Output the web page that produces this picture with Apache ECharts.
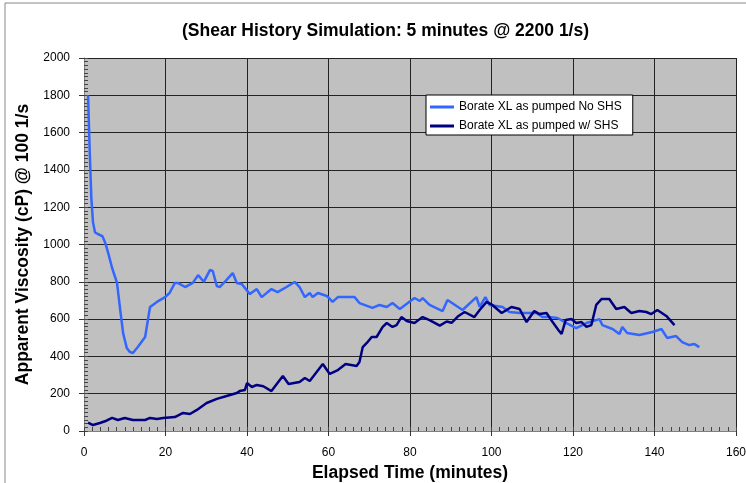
<!DOCTYPE html>
<html>
<head>
<meta charset="utf-8">
<title>Shear History Simulation</title>
<script src="https://cdn.jsdelivr.net/npm/echarts@6/dist/echarts.min.js"></script>
<style>
  html, body { margin: 0; padding: 0; background: #fff; }
  #chart { width: 746px; height: 483px; }
</style>
</head>
<body>
<div id="chart"></div>
<script>
// axis ticks
const xTicks = [0, 20, 40, 60, 80, 100, 120, 140, 160];
const yTicks = [0, 200, 400, 600, 800, 1000, 1200, 1400, 1600, 1800, 2000];

const seriesNames = ['Borate XL as pumped No SHS', 'Borate XL as pumped w/ SHS'];

// Borate XL as pumped No SHS (minutes, cP)
const noShsTime = [1.0, 1.4, 1.8, 2.2, 2.7, 3.5, 4.5, 5.2, 6.0, 6.9, 8.1, 8.8, 9.6, 10.5, 11.2, 12, 13.2, 15, 16.2, 17.9,
  19.9, 21, 22.3, 23, 24.8, 26.7, 28, 29.4, 30.9, 31.6, 32.6, 33.3, 35, 36.5, 37.5, 38.7, 40.7, 42.4, 43.6, 46,
  47.5, 49.7, 51.7, 52.9, 54.2, 55.4, 56.1, 57.4, 59.6, 61, 62.3, 66.4, 67.6, 70.8, 72.5, 74.3, 75.7, 77.5, 81.1, 82.4,
  83.1, 84.8, 88, 89.2, 92.9, 96.3, 97.1, 98.5, 99.5, 102.7, 104.4, 106.9, 111, 112.5, 114.2, 116.2, 118.4, 120.8, 123.3, 126.5,
  127.2, 129.7, 131.4, 132.1, 133.3, 136.3, 139.5, 141.7, 143.1, 145.3, 146.8, 148.5, 149.8, 151];
const noShsVisc = [1800, 1500, 1250, 1120, 1065, 1055, 1045, 1010, 950, 874, 794, 665, 525, 445, 425, 418, 450, 504, 665, 692,
  718, 740, 794, 794, 772, 794, 836, 800, 863, 858, 777, 772, 810, 847, 794, 788, 734, 761, 718, 761,
  745, 772, 799, 772, 718, 740, 718, 740, 724, 692, 718, 718, 686, 660, 676, 665, 686, 654, 713, 697,
  713, 676, 643, 702, 649, 718, 665, 718, 676, 665, 638, 633, 633, 611, 611, 606, 579, 552, 579, 600,
  568, 547, 520, 558, 525, 515, 531, 547, 499, 509, 477, 461, 466, 450];

// Borate XL as pumped w/ SHS (minutes, cP)
const shsTime = [1, 2.2, 3.9, 5.5, 6.9, 8.3, 10, 12, 15, 16.2, 17.9, 19.4, 22.3, 24.3, 26, 27.7, 30.1, 32.6, 35, 37.5,
  38.2, 39.5, 40, 41.2, 42.4, 44, 46, 48.8, 50.2, 52.9, 54.2, 55.4, 58.6, 60.3, 62.3, 64.2, 66.9, 67.6, 68.4, 69.4,
  70.6, 71.8, 73.3, 74.3, 75.7, 76.7, 77.9, 79.2, 81.1, 83.1, 84.8, 87.3, 89, 90.2, 91.9, 93.4, 95.8, 97.1, 98.8, 100.2,
  102.5, 104.9, 106.9, 108.6, 110.5, 111.8, 113.5, 115, 116.4, 117.2, 118.2, 119.6, 120.8, 122.1, 123.3, 124.5, 125.7, 127, 128.9, 130.6,
  132.6, 134.3, 136.3, 138, 139.2, 140.7, 142.9, 144.9];
const shsVisc = [45, 32, 43, 55, 70, 59, 70, 59, 59, 70, 64, 70, 75, 97, 91, 113, 150, 172, 188, 204,
  214, 220, 257, 236, 247, 240, 214, 295, 252, 263, 284, 268, 359, 306, 327, 359, 349, 370, 450, 472,
  504, 504, 558, 579, 558, 568, 611, 590, 579, 611, 595, 565, 587, 580, 617, 638, 611, 649, 692, 676,
  633, 665, 654, 584, 643, 627, 633, 584, 542, 520, 595, 600, 579, 584, 558, 568, 676, 708, 708, 654,
  665, 633, 643, 638, 627, 649, 617, 568];

const pairs = (xs, ys) => xs.map((x, i) => [x, ys[i]]);

const font = 'Liberation Sans, Arial, sans-serif';
const chart = echarts.init(document.getElementById('chart'), null, { renderer: 'canvas' });

chart.setOption({
  backgroundColor: '#fff',
  animation: false,
  // outer chart-area frame
  graphic: [{
    type: 'rect',
    shape: { x: 5, y: 3, width: 800, height: 600 },
    style: { fill: 'none', stroke: '#888', lineWidth: 1 },
    silent: true
  }],
  title: {
    text: '(Shear History Simulation: 5 minutes @ 2200 1/s)',
    left: 182,
    top: 22,
    padding: 0,
    textStyle: { fontFamily: font, fontSize: 17.5, fontWeight: 'bold', color: '#000' }
  },
  legend: {
    orient: 'vertical',
    left: 426,
    top: 95,
    padding: [6, 11, 3, 4],
    icon: 'rect',
    itemWidth: 24,
    itemHeight: 3,
    itemGap: 7,
    backgroundColor: '#fff',
    borderColor: '#000',
    borderWidth: 1,
    borderRadius: 0,
    data: seriesNames,
    textStyle: { fontFamily: font, fontSize: 12, color: '#000' }
  },
  grid: {
    left: 84, top: 58, right: 10, bottom: 52,
    containLabel: false,
    outerBoundsMode: 'none',
    show: true,
    backgroundColor: '#c0c0c0',
    borderWidth: 0
  },
  xAxis: [{
    type: 'value',
    position: 'bottom',
    min: xTicks[0],
    max: xTicks[xTicks.length - 1],
    interval: 20,
    name: 'Elapsed Time (minutes)',
    nameLocation: 'middle',
    nameGap: 30,
    nameTextStyle: { fontFamily: font, fontSize: 17.5, fontWeight: 'bold', color: '#000' },
    axisLine: { show: true, lineStyle: { color: '#808080', width: 1 } },
    axisTick: { show: true, inside: false, length: 5, lineStyle: { color: '#333' } },
    axisLabel: { margin: 16, fontFamily: font, fontSize: 12, color: '#000' },
    splitLine: { show: true, lineStyle: { color: '#222', width: 1 } }
  }, {
    // minor ticks, every 2 minutes
    type: 'value',
    position: 'bottom',
    min: 0, max: 160, interval: 2,
    axisLine: { show: false },
    axisTick: { show: true, inside: true, length: 4, lineStyle: { color: '#444' } },
    axisLabel: { show: false },
    splitLine: { show: false }
  }],
  yAxis: [{
    type: 'value',
    position: 'left',
    min: yTicks[0],
    max: yTicks[yTicks.length - 1],
    interval: 200,
    name: 'Apparent Viscosity (cP) @ 100 1/s',
    nameLocation: 'middle',
    nameGap: 49,
    nameTextStyle: { fontFamily: font, fontSize: 17.5, fontWeight: 'bold', color: '#000' },
    axisLine: { show: true, lineStyle: { color: '#808080', width: 1 } },
    axisTick: { show: true, inside: false, length: 5, lineStyle: { color: '#333' } },
    axisLabel: { margin: 14, fontFamily: font, fontSize: 12, color: '#000', formatter: v => String(v) },
    splitLine: { show: true, lineStyle: { color: '#222', width: 1 } }
  }, {
    // minor ticks, every 20 cP
    type: 'value',
    position: 'left',
    min: 0, max: 2000, interval: 20,
    axisLine: { show: false },
    axisTick: { show: true, inside: true, length: 4, lineStyle: { color: '#444' } },
    axisLabel: { show: false },
    splitLine: { show: false }
  }],
  series: [{
    name: seriesNames[0],
    type: 'line',
    xAxisIndex: 0,
    yAxisIndex: 0,
    symbol: 'none',
    smooth: false,
    color: '#3366ff',
    lineStyle: { color: '#3366ff', width: 2.5 },
    data: pairs(noShsTime, noShsVisc)
  }, {
    name: seriesNames[1],
    type: 'line',
    xAxisIndex: 0,
    yAxisIndex: 0,
    symbol: 'none',
    smooth: false,
    color: '#000080',
    lineStyle: { color: '#000080', width: 2.5 },
    data: pairs(shsTime, shsVisc)
  }]
});
</script>
</body>
</html>
